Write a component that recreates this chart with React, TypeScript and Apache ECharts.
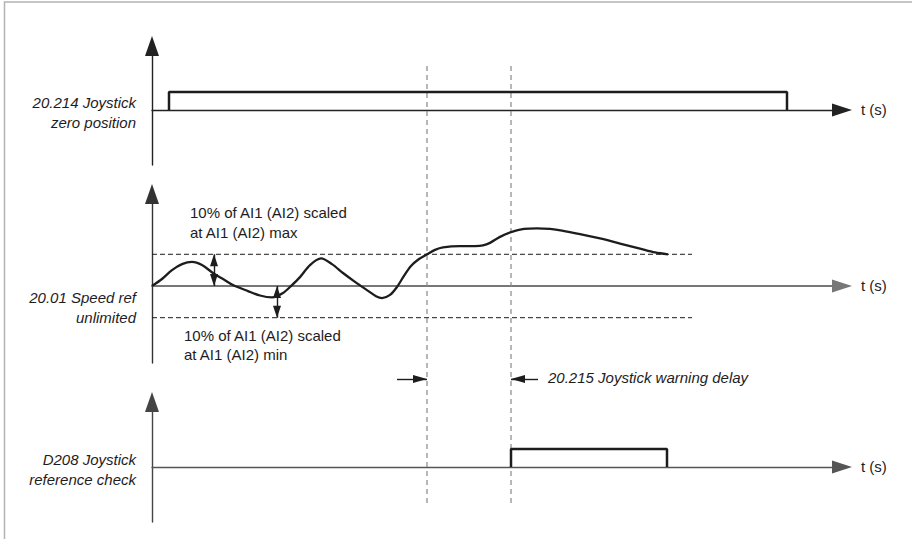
import React, { useEffect, useRef } from "react";
import * as echarts from "echarts";

// ---- data (time in s, signal levels in relative units) ----
const timeMax = 69;
const zeroPosT = [1.7, 1.7, 63.5, 63.5];
const zeroPosV = [0, 1, 1, 0];
const speedRefT = [
  0, 1.0, 2.0, 3.0, 4.0, 5.0, 6.1, 7.1, 8.1, 9.6, 10.8, 12.0, 13.1, 14.0, 14.8, 15.8, 16.9, 18.0,
  19.1, 20.3, 21.5, 22.4, 23.0, 23.8, 24.5, 25.2, 25.9, 26.7, 27.5, 28.3, 29.1, 30.8, 32.3, 33.1,
  33.8, 34.8, 35.9, 37.2, 38.5, 39.8, 41.0, 42.8, 44.8, 46.8, 48.8, 50.3, 51.6,
];
const speedRefV = [
  0, 0.22, 0.5, 0.69, 0.76, 0.66, 0.41, 0.22, 0.03, -0.16, -0.3, -0.36, -0.22, 0.03, 0.28, 0.66,
  0.87, 0.69, 0.41, 0.13, -0.13, -0.32, -0.38, -0.28, -0.03, 0.32, 0.63, 0.85, 1.0, 1.14, 1.22,
  1.26, 1.26, 1.28, 1.36, 1.55, 1.7, 1.8, 1.82, 1.8, 1.75, 1.64, 1.5, 1.34, 1.18, 1.06, 1.0,
];
const thresholdHigh = 1;
const thresholdLow = -1;
const thresholdEndT = 54;
const refCheckT = [35.9, 35.9, 51.5, 51.5];
const refCheckV = [0, 1, 1, 0];
const exceedT = 27.5; // curve crosses the threshold
const warnT = 35.9; // warning raised
const marginArrowT = [6.2, 12.5];
const delayArrowTailT = [24.5, 38.6];
const axisName = "t (s)";
const labels = [
  "20.214 Joystick\nzero position",
  "20.01 Speed ref\nunlimited",
  "D208 Joystick\nreference check",
];
const thresholdTexts = [
  "10% of AI1 (AI2) scaled\nat AI1 (AI2) max",
  "10% of AI1 (AI2) scaled\nat AI1 (AI2) min",
];
const delayText = "20.215 Joystick warning delay";

const FONT = "'Liberation Sans', Arial, sans-serif";
const INK = "#1e1c1d";

const zip = (a: number[], b: number[]) => a.map((v, i) => [v, b[i]]);

function xAxisFor(gridIndex: number, color: string, width: number) {
  return {
    type: "value",
    gridIndex,
    min: 0,
    max: timeMax,
    axisLine: {
      show: true,
      onZero: true,
      symbol: ["none", "triangle"],
      symbolSize: [13, 20],
      lineStyle: { color, width },
    },
    axisTick: { show: false },
    axisLabel: { show: false },
    splitLine: { show: false },
    name: axisName,
    nameLocation: "end",
    nameGap: 19,
    nameTextStyle: { fontFamily: FONT, fontSize: 15, color: INK },
  };
}

function yAxisFor(gridIndex: number, min: number, max: number, color: string) {
  return {
    type: "value",
    gridIndex,
    min,
    max,
    axisLine: {
      show: true,
      onZero: true,
      symbol: ["none", "triangle"],
      symbolSize: [14, 20],
      lineStyle: { color, width: 1.4 },
    },
    axisTick: { show: false },
    axisLabel: { show: false },
    splitLine: { show: false },
  };
}

export default function App() {
  const ref = useRef<HTMLDivElement>(null);
  useEffect(() => {
    if (!ref.current) return;
    const chart = echarts.init(ref.current, null, { renderer: "svg" });

    const arrowEnd = (coord: number[], size: number[]) => ({
      coord,
      symbol: "triangle",
      symbolSize: size,
      symbolOffset: [0, size[1] / 2],
    });

    const option: any = {
      animation: false,
      backgroundColor: "#ffffff",
      grid: [
        { left: 152, width: 690, top: 46, height: 119 },
        { left: 152, width: 690, top: 194, height: 169 },
        { left: 152, width: 690, top: 402, height: 120 },
        { left: 152, width: 690, top: 0, height: 539 },
      ],
      xAxis: [
        xAxisFor(0, "#222", 1.3),
        xAxisFor(1, "#777", 1.8),
        xAxisFor(2, "#555", 1.4),
        { type: "value", gridIndex: 3, min: 0, max: timeMax, show: false },
      ],
      yAxis: [
        yAxisFor(0, -3.056, 3.556, "#222"),
        yAxisFor(1, -2.429, 2.902, "#333"),
        yAxisFor(2, -3.056, 3.611, "#444"),
        { type: "value", gridIndex: 3, min: 0, max: 539, inverse: true, show: false },
      ],
      series: [
        {
          type: "line",
          xAxisIndex: 0,
          yAxisIndex: 0,
          data: zip(zeroPosT, zeroPosV),
          symbol: "none",
          lineStyle: { color: INK, width: 2.5 },
          z: 5,
        },
        {
          type: "line",
          xAxisIndex: 1,
          yAxisIndex: 1,
          data: [
            [0, thresholdHigh],
            [thresholdEndT, thresholdHigh],
          ],
          symbol: "none",
          lineStyle: { color: INK, width: 1, type: [5, 3] },
        },
        {
          type: "line",
          xAxisIndex: 1,
          yAxisIndex: 1,
          data: [
            [0, thresholdLow],
            [thresholdEndT, thresholdLow],
          ],
          symbol: "none",
          lineStyle: { color: INK, width: 1, type: [5, 3] },
        },
        {
          type: "line",
          xAxisIndex: 1,
          yAxisIndex: 1,
          data: zip(speedRefT, speedRefV),
          smooth: 0.3,
          symbol: "none",
          lineStyle: { color: INK, width: 2.3 },
          z: 5,
          markLine: {
            silent: true,
            symbol: ["triangle", "triangle"],
            label: { show: false },
            lineStyle: { color: INK, width: 1.4, type: "solid" },
            emphasis: { disabled: true },
            data: [
              [arrowEnd([marginArrowT[0], 0], [8, 12]), arrowEnd([marginArrowT[0], thresholdHigh], [8, 12])],
              [arrowEnd([marginArrowT[1], 0], [8, 12]), arrowEnd([marginArrowT[1], thresholdLow], [8, 12])],
            ],
          },
        },
        {
          type: "line",
          xAxisIndex: 2,
          yAxisIndex: 2,
          data: zip(refCheckT, refCheckV),
          symbol: "none",
          lineStyle: { color: INK, width: 2.5 },
          z: 5,
        },
        {
          type: "line",
          xAxisIndex: 3,
          yAxisIndex: 3,
          data: [
            [exceedT, 66],
            [exceedT, 505],
          ],
          symbol: "none",
          lineStyle: { color: "#888", width: 1.2, type: [5, 4] },
        },
        {
          type: "line",
          xAxisIndex: 3,
          yAxisIndex: 3,
          data: [
            [warnT, 66],
            [warnT, 505],
          ],
          symbol: "none",
          lineStyle: { color: "#888", width: 1.2, type: [5, 4] },
          markLine: {
            silent: true,
            symbol: ["none", "triangle"],
            label: { show: false },
            lineStyle: { color: INK, width: 1.4, type: "solid" },
            emphasis: { disabled: true },
            data: [
              [{ coord: [delayArrowTailT[0], 379], symbol: "none" }, arrowEnd([exceedT, 379], [8, 14])],
              [{ coord: [delayArrowTailT[1], 379], symbol: "none" }, arrowEnd([warnT, 379], [8, 14])],
            ],
          },
        },
      ],
      graphic: [
        {
          type: "polyline",
          shape: { points: [[4.5, 539], [4.5, 2], [912, 2]] },
          style: { stroke: "#b3b3b3", lineWidth: 1.5, fill: null },
          silent: true,
        },
        ...labels.map((t, i) => ({
          type: "text",
          x: 136,
          y: [112, 307.5, 469.5][i],
          style: {
            text: t,
            fontFamily: FONT,
            fontSize: 15,
            fontStyle: "italic",
            fill: INK,
            align: "right",
            verticalAlign: "middle",
            lineHeight: 20,
          },
        })),
        ...thresholdTexts.map((t, i) => ({
          type: "text",
          x: [190, 184][i],
          y: [222.5, 345][i],
          style: {
            text: t,
            fontFamily: FONT,
            fontSize: 15,
            fill: INK,
            align: "left",
            verticalAlign: "middle",
            lineHeight: 19.5,
          },
        })),
        {
          type: "text",
          x: 548,
          y: 377,
          style: {
            text: delayText,
            fontFamily: FONT,
            fontSize: 15,
            fontStyle: "italic",
            fill: INK,
            align: "left",
            verticalAlign: "middle",
          },
        },
      ],
    };
    chart.setOption(option);
    return () => chart.dispose();
  }, []);
  return (
    <div
      ref={ref}
      style={{ position: "fixed", left: 0, top: 0, width: 912, height: 539, background: "#fff" }}
    />
  );
}
